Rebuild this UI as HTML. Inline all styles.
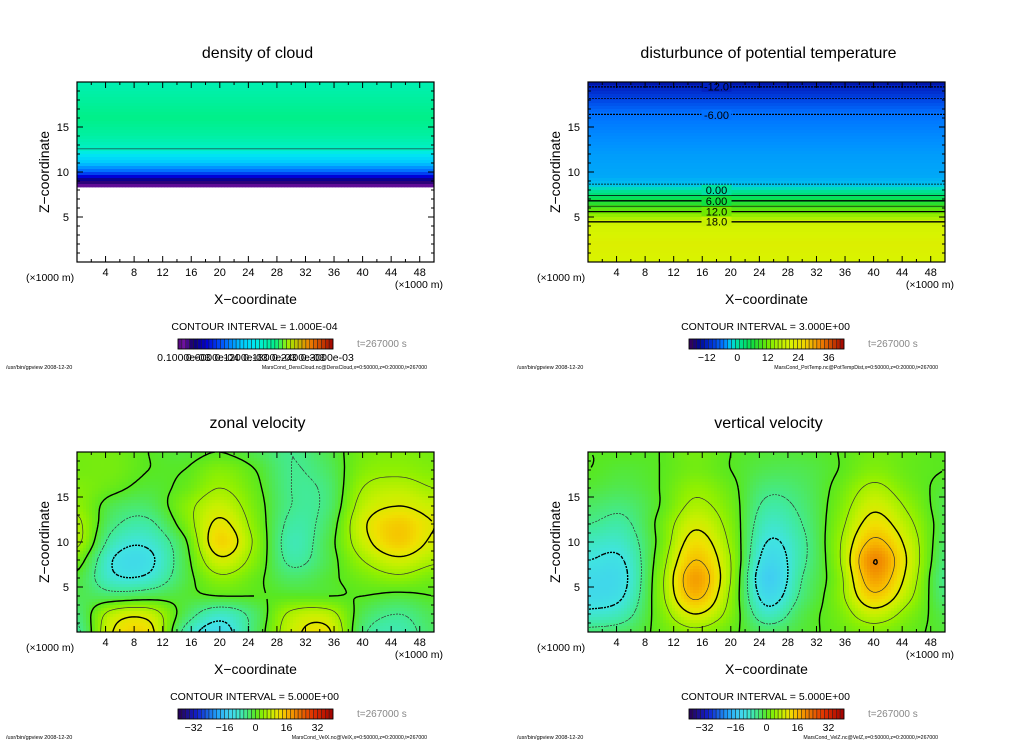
<!DOCTYPE html>
<html><head><meta charset="utf-8">
<style>
html,body{margin:0;padding:0;background:#fff;}
svg{display:block;font-family:"Liberation Sans",sans-serif;}
</style></head>
<body>
<svg id="fig" width="1024" height="740" viewBox="0 0 1024 740" xmlns="http://www.w3.org/2000/svg">
<rect x="0" y="0" width="1024" height="740" fill="#fff"/>
</svg>
<script>
// ---------------- data ----------------
const xTicks=[4,8,12,16,20,24,28,32,36,40,44,48];
const zTicks=[5,10,15];
const gridX=[0,5,10,15,20,25,30,35,40,45,50];
const gridZ=[20,18,16,14,12,10,8,6,4,2,0];
const zonalU=[
[2,2,0,-1,0,-2,-5,-2,2,3,2],
[2,2,0,0,3,0,-5,-3,3,4,3],
[3,1,-1,1,5,1,-5,-4,5,7,5],
[4,-2,-3,3,8,2,-5,-4,7,10,8],
[6,-4,-6,2,11,3,-6,-3,9,14,10],
[6,-7,-9,-1,13,4,-7,-2,8,14,9],
[2,-10,-11,-2,9,3,-6,-2,5,9,6],
[-1,-9,-9,-2,4,1,-3,-1,2,4,2],
[-2,-3,-2,-1,0,0,0,0,0,-1,0],
[-4,7,8,-2,-8,-3,6,7,-2,-5,-2],
[-6,10,12,-6,-12,-3,8,11,-4,-7,-3]];
const vertW=[
[0,0,0,2,0,-1,-1,0,2,1,0],
[0,-1,0,2,0,-2,-2,0,3,1,0],
[-1,-2,0,4,1,-4,-3,1,6,2,-1],
[-3,-4,0,6,2,-6,-4,2,9,4,-2],
[-5,-6,1,9,3,-8,-5,3,12,6,-2],
[-8,-8,1,12,4,-10,-6,4,16,8,-3],
[-10,-10,2,15,5,-12,-6,4,20,9,-4],
[-12,-11,3,18,5,-14,-5,3,18,8,-5],
[-12,-10,3,16,4,-12,-4,3,14,6,-4],
[-9,-7,2,10,3,-8,-2,2,8,3,-2],
[-4,-3,1,4,1,-3,-1,1,3,1,-1]];
const cloudZ=[0,8.3,8.4,9,9.5,10,11,12,12.5,14,16,18,20];
const cloudV=[0,0,0.1,0.18,0.3,0.45,0.6,0.72,0.78,0.85,0.9,0.86,0.82];
const ptZ=[0,2,4,4.5,5,5.6,6.2,6.8,7.4,8,8.6,9.5,12,14,16.5,18.2,19.5,20];
const ptV=[21,22,20,18,15,12,9,6,3,0,-3,-3.5,-4,-4.8,-6,-9,-12,-14];
// ---------------- colormaps ----------------
const velStops=[[-40,'#280050'],[-30,'#1020d0'],[-20,'#20a0f8'],[-14,'#40d0f0'],[-10,'#40e4e0'],[-6,'#40eaa0'],[-2,'#50e850'],[0,'#58e820'],[4,'#90f000'],[8,'#c8f000'],[12,'#f0e000'],[16,'#f8b800'],[20,'#f08800'],[30,'#e03000'],[40,'#a00000']];
const ptStops=[[-18,'#300060'],[-15,'#000890'],[-12,'#0020c0'],[-9,'#0040e0'],[-6,'#0070ff'],[-4.5,'#0090ff'],[-3.5,'#00a8f8'],[-3,'#00c0f0'],[-1.5,'#00d8d0'],[0,'#00e0a0'],[3,'#00e070'],[6,'#10e040'],[9,'#40e020'],[12,'#70e800'],[15,'#a0f000'],[18,'#c8f000'],[21,'#d8f400'],[27,'#f0d000'],[33,'#f08000'],[42,'#a00000']];
const cloudStops=[[0,'#300050'],[0.1,'#7010a0'],[0.18,'#10006a'],[0.3,'#0000d8'],[0.45,'#0060ff'],[0.6,'#00c8ff'],[0.72,'#00e8f0'],[0.78,'#00f0c8'],[0.9,'#00f088'],[1.0,'#a0f000'],[1.2,'#f08000'],[1.4,'#a00000']];

function hex(c){return [parseInt(c.substr(1,2),16),parseInt(c.substr(3,2),16),parseInt(c.substr(5,2),16)];}
function cmap(stops,v){
  if(v<=stops[0][0]) return stops[0][1];
  for(let i=1;i<stops.length;i++){
    if(v<=stops[i][0]){
      const a=hex(stops[i-1][1]),b=hex(stops[i][1]);
      const t=(v-stops[i-1][0])/(stops[i][0]-stops[i-1][0]);
      return 'rgb('+a.map((q,k)=>Math.round(q+(b[k]-q)*t)).join(',')+')';
    }
  }
  return stops[stops.length-1][1];
}
function cr(a,b,c,d,t){return 0.5*(2*b+(-a+c)*t+(2*a-5*b+4*c-d)*t*t+(-a+3*b-3*c+d)*t*t*t);}
function sampleGrid(G,x,z){
  const gx=x/(gridX[1]-gridX[0]), gz=(gridZ[0]-z)/(gridZ[0]-gridZ[1]);
  const nx=gridX.length, nz=gridZ.length;
  let i=Math.min(Math.floor(gx),nx-2), j=Math.min(Math.floor(gz),nz-2);
  i=Math.max(i,0); j=Math.max(j,0);
  const tx=gx-i, tz=gz-j;
  const ci=k=>Math.max(0,Math.min(nx-1,k)), cj=k=>Math.max(0,Math.min(nz-1,k));
  const r=[];
  for(let k=-1;k<=2;k++){const row=G[cj(j+k)];r.push(cr(row[ci(i-1)],row[ci(i)],row[ci(i+1)],row[ci(i+2)],tx));}
  return cr(r[0],r[1],r[2],r[3],tz);
}
function sampleProfile(Z,V,z){
  if(z<=Z[0])return V[0];
  for(let i=1;i<Z.length;i++){if(z<=Z[i]){const t=(z-Z[i-1])/(Z[i]-Z[i-1]);return V[i-1]+(V[i]-V[i-1])*t;}}
  return V[V.length-1];
}
// ---------------- layout ----------------
const svg=document.getElementById('fig');
const NS='http://www.w3.org/2000/svg';
const W=357,H=180;
function el(tag,attrs,parent){const e=document.createElementNS(NS,tag);for(const k in attrs)e.setAttribute(k,attrs[k]);(parent||svg).appendChild(e);return e;}
function txt(s,attrs,parent){const e=el('text',attrs,parent);e.textContent=s;return e;}

const panels=[
 {x0:77,y0:82,title:'density of cloud',name:'cloud',f:(x,z)=>sampleProfile(cloudZ,cloudV,z),stops:cloudStops,mask:v=>v<0.05,
  levels:[{v:0.78,w:0.8,dash:null,col:'#1a5a50'}],ci:'1.000E-04',cbMin:0.05,cbMax:1.4,
  cbLabels:[[0.1,'0.1000e-03'],[0.35,'0.6000e-04'],[0.6,'0.1200e-03'],[0.85,'0.1800e-03'],[1.1,'0.2400e-03'],[1.35,'0.3000e-03']],
  foot:'MarsCond_DensCloud.nc@DensCloud,x=0:50000,z=0:20000,t=267000'},
 {x0:588,y0:82,title:'disturbunce of potential temperature',name:'pottemp',f:(x,z)=>sampleProfile(ptZ,ptV,z),stops:ptStops,mask:v=>false,
  levels:[-12,-9,-6,-3,0,3,6,9,12,15,18].map(v=>({v:v,w:(v%6===0)?1.3:0.7,dash:v<0?'2,1.5':null,col:'#000'})),
  labels:[[-12,'-12.0'],[-6,'-6.00'],[0,'0.00'],[6,'6.00'],[12,'12.0'],[18,'18.0']],labelX:18,
  ci:'3.000E+00',cbMin:-19,cbMax:42,cbLabels:[[-12,'\u221212'],[0,'0'],[12,'12'],[24,'24'],[36,'36']],
  foot:'MarsCond_PotTemp.nc@PotTempDist,x=0:50000,z=0:20000,t=267000'},
 {x0:77,y0:452,title:'zonal velocity',name:'zonal',f:(x,z)=>sampleGrid(zonalU,x,z),stops:velStops,mask:v=>false,
  levels:[-10,-5,0,5,10,15].map(v=>({v:v,w:(v%10===0)?1.4:0.7,dash:v<0?'2,1.5':null,col:v%10===0?'#000':'#333'})),
  ci:'5.000E+00',cbMin:-40,cbMax:40,cbLabels:[[-32,'\u221232'],[-16,'\u221216'],[0,'0'],[16,'16'],[32,'32']],
  foot:'MarsCond_VelX.nc@VelX,x=0:50000,z=0:20000,t=267000'},
 {x0:588,y0:452,title:'vertical velocity',name:'vertical',f:(x,z)=>sampleGrid(vertW,x,z),stops:velStops,mask:v=>false,
  levels:[-10,-5,0,5,10,15,20].map(v=>({v:v,w:(v%10===0)?1.4:0.7,dash:v<0?'2,1.5':null,col:v%10===0?'#000':'#333'})),
  ci:'5.000E+00',cbMin:-40,cbMax:40,cbLabels:[[-32,'\u221232'],[-16,'\u221216'],[0,'0'],[16,'16'],[32,'32']],
  foot:'MarsCond_VelZ.nc@VelZ,x=0:50000,z=0:20000,t=267000'}
];

panels.forEach((p,pi)=>{
  const g=el('g',{});
  
  
  const sx=x=>p.x0+x/50*W, sy=z=>p.y0+H-z/20*H;
  const ix=px=>(px-p.x0)/W*50, iz=py=>(p.y0+H-py)/H*20;
  const cp=el('clipPath',{id:'clip'+pi},g);
  el('rect',{x:p.x0,y:p.y0,width:W,height:H},cp);
  const field=el('g',{'clip-path':'url(#clip'+pi+')'},g);
  
  
  const st=3, nx=Math.ceil(W/st), nz=Math.ceil(H/st);
  for(let j=0;j<nz;j++){for(let i=0;i<nx;i++){
    const v=p.f(ix(p.x0+i*st+st/2),iz(p.y0+j*st+st/2));
    if(p.mask(v))continue;
    const r=el('rect',{x:p.x0+i*st,y:p.y0+j*st,width:st+0.4,height:st+0.4,fill:cmap(p.stops,v)},field);
    
    
  }}
  const N=[];
  for(let j=0;j<=nz;j++){N.push([]);for(let i=0;i<=nx;i++){N[j].push(p.f(ix(p.x0+i*st),iz(p.y0+j*st)));}}
  p.levels.forEach(L=>{
    let d='';
    for(let j=0;j<nz;j++)for(let i=0;i<nx;i++){
      const a=N[j][i],b=N[j][i+1],c=N[j+1][i+1],e=N[j+1][i];
      if(p.mask(a)||p.mask(b)||p.mask(c)||p.mask(e))continue;
      const X=p.x0+i*st,Y=p.y0+j*st,pts=[];
      const cross=(v1,v2,x1,y1,x2,y2)=>{if((v1-L.v)*(v2-L.v)<0){const t=(L.v-v1)/(v2-v1);pts.push([x1+(x2-x1)*t,y1+(y2-y1)*t]);}};
      cross(a,b,X,Y,X+st,Y);cross(b,c,X+st,Y,X+st,Y+st);cross(e,c,X,Y+st,X+st,Y+st);cross(a,e,X,Y,X,Y+st);
      for(let k=0;k+1<pts.length;k+=2)d+='M'+pts[k][0].toFixed(1)+' '+pts[k][1].toFixed(1)+'L'+pts[k+1][0].toFixed(1)+' '+pts[k+1][1].toFixed(1);
    }
    if(d){const pa=el('path',{d:d,fill:'none',stroke:L.col,'stroke-width':L.w,'stroke-dasharray':L.dash||'none'},field);
      
      }
  });
  if(p.labels){p.labels.forEach(lb=>{
    let zc=null;for(let z=0;z<=20;z+=0.02){if(Math.abs(p.f(0,z)-lb[0])<0.08){zc=z;break;}}
    if(zc===null)return;
    const cx=sx(p.labelX), cy=sy(zc);
    el('rect',{x:cx-15,y:cy-5,width:30,height:10,fill:cmap(p.stops,lb[0])},field);
    const t=txt(lb[1],{x:cx,y:cy+4,'font-size':11,'text-anchor':'middle',fill:'#000'},field);
    
    
  });}
  const fr=el('rect',{x:p.x0,y:p.y0,width:W,height:H,fill:'none',stroke:'#000','stroke-width':1.2},g);
  
  
  let td='';
  for(let x=2;x<50;x+=2){const L=(x%4===0)?6:3;td+='M'+sx(x)+' '+(p.y0+H)+'v'+(-L)+'M'+sx(x)+' '+p.y0+'v'+L;}
  for(let z=1;z<20;z++){const L=(z%5===0)?6:3;td+='M'+p.x0+' '+sy(z)+'h'+L+'M'+(p.x0+W)+' '+sy(z)+'h'+(-L);}
  const tk=el('path',{d:td,stroke:'#000','stroke-width':1,fill:'none'},g);
  
  
  xTicks.forEach(x=>{const t=txt(String(x),{x:sx(x),y:p.y0+H+14,'font-size':11,'text-anchor':'middle'},g);
    
    });
  zTicks.forEach(z=>{const t=txt(String(z),{x:p.x0-8,y:sy(z)+4,'font-size':11,'text-anchor':'end'},g);
    
    });
  const u1=txt('(\u00d71000 m)',{x:p.x0-51,y:p.y0+H+19,'font-size':10.5},g);
  
  
  const u2=txt('(\u00d71000 m)',{x:p.x0+W+9,y:p.y0+H+26,'font-size':10.5,'text-anchor':'end'},g);
  
  
  const xt=txt('X\u2212coordinate',{x:p.x0+W/2,y:p.y0+H+42,'font-size':14,'text-anchor':'middle'},g);
  
  
  const yt=txt('Z\u2212coordinate',{x:0,y:0,'font-size':14,'text-anchor':'middle',transform:'translate('+(p.x0-28)+','+(p.y0+H/2)+') rotate(-90)'},g);
  
  
  const tt=txt(p.title,{x:p.x0+W/2+2,y:p.y0-24,'font-size':16,'text-anchor':'middle'},g);
  
  
  const ci=txt('CONTOUR INTERVAL = '+p.ci,{x:p.x0+W/2-1,y:p.y0+H+68,'font-size':10.5,'text-anchor':'middle'},g);
  
  
  const cbx=p.x0+101, cby=p.y0+H+77, cbw=155, cbh=10, nseg=40;
  for(let k=0;k<nseg;k++){
    const v=p.cbMin+(k+0.5)/nseg*(p.cbMax-p.cbMin);
    const r=el('rect',{x:cbx+k*cbw/nseg,y:cby,width:cbw/nseg,height:cbh,fill:cmap(p.stops,v),stroke:'#222','stroke-width':0.5},g);
    
    
  }
  const cbf=el('rect',{x:cbx,y:cby,width:cbw,height:cbh,fill:'none',stroke:'#000','stroke-width':0.8},g);
  
  
  p.cbLabels.forEach(lb=>{
    const t=txt(lb[1],{x:cbx+(lb[0]-p.cbMin)/(p.cbMax-p.cbMin)*cbw,y:cby+22,'font-size':10.5,'text-anchor':'middle'},g);
    
    
  });
  const tm=txt('t=267000 s',{x:p.x0+280,y:cby+8,'font-size':10,fill:'#888'},g);
  
  
  const f1=txt('/usr/bin/gpview   2008-12-20',{x:p.x0-71,y:p.y0+H+107,'font-size':5.5},g);
  
  
  const f2=txt(p.foot,{x:p.x0+W-7,y:p.y0+H+107,'font-size':5.2,'text-anchor':'end'},g);
  
  
});
</script>
</body></html>
